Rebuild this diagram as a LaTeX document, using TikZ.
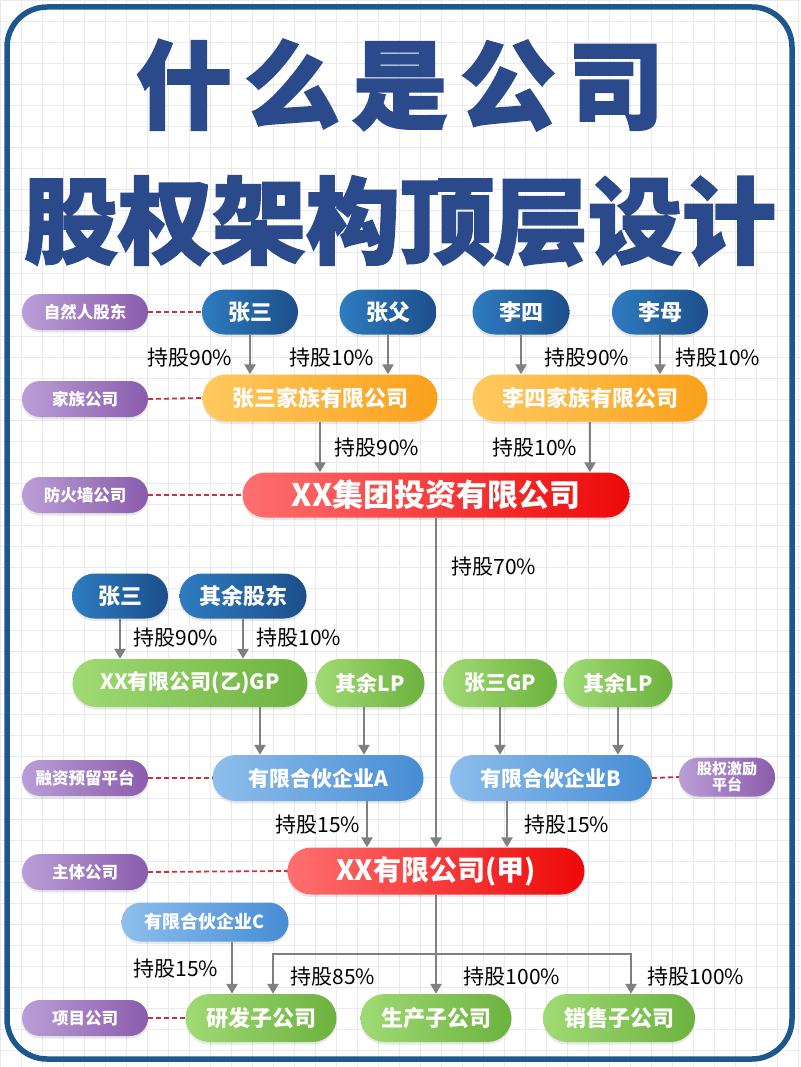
\documentclass[tikz,border=0pt]{standalone}
\usepackage{fontspec}
\setmainfont{Noto Sans CJK SC}
\newfontfamily\titlefont{Noto Sans CJK SC}[BoldFeatures={FakeBold=2}]
\usetikzlibrary{shapes.misc,arrows.meta,shadows}
\definecolor{TitleBlue}{RGB}{42,74,140}
\definecolor{FrameBlue}{RGB}{28,88,140}
\definecolor{GridGray}{RGB}{234,234,238}
\definecolor{DBl}{RGB}{46,124,192}
\definecolor{DBr}{RGB}{28,78,138}
\definecolor{ORl}{RGB}{255,202,96}
\definecolor{ORr}{RGB}{250,160,26}
\definecolor{RDl}{RGB}{255,112,112}
\definecolor{RDr}{RGB}{238,8,8}
\definecolor{GRl}{RGB}{160,218,116}
\definecolor{GRr}{RGB}{108,178,62}
\definecolor{LBl}{RGB}{142,190,236}
\definecolor{LBr}{RGB}{70,140,212}
\definecolor{PUl}{RGB}{186,158,214}
\definecolor{PUr}{RGB}{138,92,172}
\definecolor{ArrGray}{RGB}{128,128,128}
\definecolor{DashRed}{RGB}{200,50,60}
\newcommand\setfs[1]{\fontsize{#1}{#1}\selectfont}
\begin{document}
\begin{tikzpicture}[x=1pt,y=-1pt,
  pill/.style={rounded rectangle, inner sep=0pt, text=white,
    drop shadow={opacity=0.18, shadow xshift=0pt, shadow yshift=-2.5pt}},
  dblue/.style={pill, left color=DBl, right color=DBr, font=\bfseries\setfs{22}},
  orng/.style={pill, left color=ORl, right color=ORr, font=\bfseries\setfs{22}},
  redp/.style={pill, left color=RDl, right color=RDr},
  grn/.style={pill, left color=GRl, right color=GRr, font=\bfseries\setfs{21}},
  lblue/.style={pill, left color=LBl, right color=LBr, font=\bfseries\setfs{21}},
  purp/.style={pill, left color=PUl, right color=PUr, font=\bfseries\setfs{16.5},
    minimum width=126, minimum height=36},
  pct/.style={inner sep=0pt, text=black, font=\setfs{21}},
  arr/.style={draw=ArrGray, line width=2.5pt, -{Triangle[length=10pt,width=11pt]}},
  dsh/.style={draw=DashRed, line width=1.8pt, dash pattern=on 5pt off 3pt},
]
\useasboundingbox (0,0) rectangle (800,1067);
\fill[white] (0,0) rectangle (800,1067);
\foreach \i in {0,21,...,798} \draw[GridGray, line width=0.7pt] (\i,0) -- (\i,1067);
\foreach \j in {0,21,...,1066} \draw[GridGray, line width=0.7pt] (0,\j) -- (800,\j);
\draw[FrameBlue, line width=5.5pt, rounded corners=40pt] (7,7) rectangle (792,1059);

% title
\node[inner sep=0pt, text=TitleBlue, font=\titlefont\bfseries\setfs{96}] (t1) at (400,85)
  {什\hspace{12pt}么\hspace{12pt}是\hspace{12pt}公\hspace{12pt}司};
\node[inner sep=0pt, text=TitleBlue, font=\titlefont\bfseries\setfs{94}] (t2) at (400,221)
  {股权架构顶层设计};

% left labels
\node[purp] (nat) at (85,312) {自然人股东};
\node[purp] (fam) at (85,399) {家族公司};
\node[purp] (fw) at (85,495) {防火墙公司};
\node[purp] (fin) at (85,778) {融资预留平台};
\node[purp] (mainl) at (85,872) {主体公司};
\node[purp] (proj) at (85,1018) {项目公司};
\node[purp, font=\bfseries\setfs{15}, minimum width=96, minimum height=39, align=center]
  (inc) at (727,777) {股权激励\\[1pt]平台};

% row 1
\node[dblue, minimum width=96, minimum height=45] (zs1) at (250,312) {张三};
\node[dblue, minimum width=97, minimum height=45] (zf) at (388,312) {张父};
\node[dblue, minimum width=97, minimum height=45] (ls) at (521,312) {李四};
\node[dblue, minimum width=96, minimum height=45] (lm) at (660,312) {李母};
% row 2
\node[orng, minimum width=235, minimum height=47] (zsf) at (320,398) {张三家族有限公司};
\node[orng, minimum width=235, minimum height=47] (lsf) at (590,398) {李四家族有限公司};
% row 3
\node[redp, font=\bfseries\setfs{31}, minimum width=387, minimum height=45] (jt) at (436,495) {XX集团投资有限公司};
% row 4
\node[dblue, minimum width=96, minimum height=45] (zs2) at (120,596) {张三};
\node[dblue, minimum width=127, minimum height=45] (qy) at (243,596) {其余股东};
% row 5
\node[grn, minimum width=235, minimum height=48] (gpy) at (190,683) {XX有限公司(乙)GP};
\node[grn, minimum width=109, minimum height=48] (lp1) at (370,683) {其余LP};
\node[grn, minimum width=114, minimum height=48] (zgp) at (500,683) {张三GP};
\node[grn, minimum width=109, minimum height=48] (lp2) at (618,683) {其余LP};
% row 6
\node[lblue, minimum width=211, minimum height=46] (pa) at (318,778) {有限合伙企业A};
\node[lblue, minimum width=202, minimum height=46] (pb) at (551,778) {有限合伙企业B};
% row 7
\node[redp, font=\bfseries\setfs{28}, minimum width=297, minimum height=47] (jia) at (436,871) {XX有限公司(甲)};
% row 8
\node[lblue, font=\bfseries\setfs{18}, minimum width=167, minimum height=39] (pc) at (205,922) {有限合伙企业C};
% row 9
\node[grn, font=\bfseries\setfs{22}, minimum width=151, minimum height=48] (yf) at (261,1018) {研发子公司};
\node[grn, font=\bfseries\setfs{22}, minimum width=151, minimum height=48] (sc) at (436,1018) {生产子公司};
\node[grn, font=\bfseries\setfs{22}, minimum width=152, minimum height=48] (xs) at (619,1018) {销售子公司};

% dashed links
\draw[dsh] (nat.east) -- (zs1.west);
\draw[dsh] (fam.east) -- (zsf.west);
\draw[dsh] (fw.east) -- (jt.west);
\draw[dsh] (fin.east) -- (pa.west);
\draw[dsh] (pb.east) -- (inc.west);
\draw[dsh] (mainl.east) -- (jia.west);
\draw[dsh] (proj.east) -- (yf.west);

% arrows
\draw[arr] (zs1.south) -- (zs1.south |- zsf.north);
\draw[arr] (zf.south) -- (zf.south |- zsf.north);
\draw[arr] (ls.south) -- (ls.south |- lsf.north);
\draw[arr] (lm.south) -- (lm.south |- lsf.north);
\draw[arr] (zsf.south) -- (zsf.south |- jt.north);
\draw[arr] (lsf.south) -- (lsf.south |- jt.north);
\draw[arr] (jt.south) -- (jt.south |- jia.north);
\draw[arr] (zs2.south) -- (zs2.south |- gpy.north);
\draw[arr] (qy.south) -- (qy.south |- gpy.north);
\draw[arr] ([xshift=70pt]gpy.south) -- ([xshift=70pt]gpy.south |- pa.north);
\draw[arr] ([xshift=-6pt]lp1.south) -- ([xshift=-6pt]lp1.south |- pa.north);
\draw[arr] (zgp.south) -- (zgp.south |- pb.north);
\draw[arr] (lp2.south) -- (lp2.south |- pb.north);
\draw[arr] ([xshift=49pt]pa.south) -- ([xshift=49pt]pa.south |- jia.north);
\draw[arr] ([xshift=-44pt]pb.south) -- ([xshift=-44pt]pb.south |- jia.north);
\draw[arr] ([xshift=27pt]pc.south) -- ([xshift=27pt]pc.south |- yf.north);

\coordinate (bus) at (436,954);
\coordinate (busL) at (273,954);
\coordinate (busR) at (631,954);
\draw[arr] (jia.south) -- (jia.south |- sc.north);
\draw[arr, line join=miter] (bus) -- (busL) -- (busL |- yf.north);
\draw[arr, line join=miter] (bus) -- (busR) -- (busR |- xs.north);

% percentage labels
\node[pct] (p1) at (190,358) {持股90\%};
\node[pct] (p2) at (332,358) {持股10\%};
\node[pct] (p3) at (587,358) {持股90\%};
\node[pct] (p4) at (718,358) {持股10\%};
\node[pct] (p5) at (377,448) {持股90\%};
\node[pct] (p6) at (535,448) {持股10\%};
\node[pct] (p7) at (494,567) {持股70\%};
\node[pct] (p8) at (176,638) {持股90\%};
\node[pct] (p9) at (299,638) {持股10\%};
\node[pct] (p10) at (318,825) {持股15\%};
\node[pct] (p11) at (567,825) {持股15\%};
\node[pct] (p12) at (176,969) {持股15\%};
\node[pct] (p13) at (333,977) {持股85\%};
\node[pct] (p14) at (512,977) {持股100\%};
\node[pct] (p15) at (696,977) {持股100\%};
\end{tikzpicture}
\end{document}
